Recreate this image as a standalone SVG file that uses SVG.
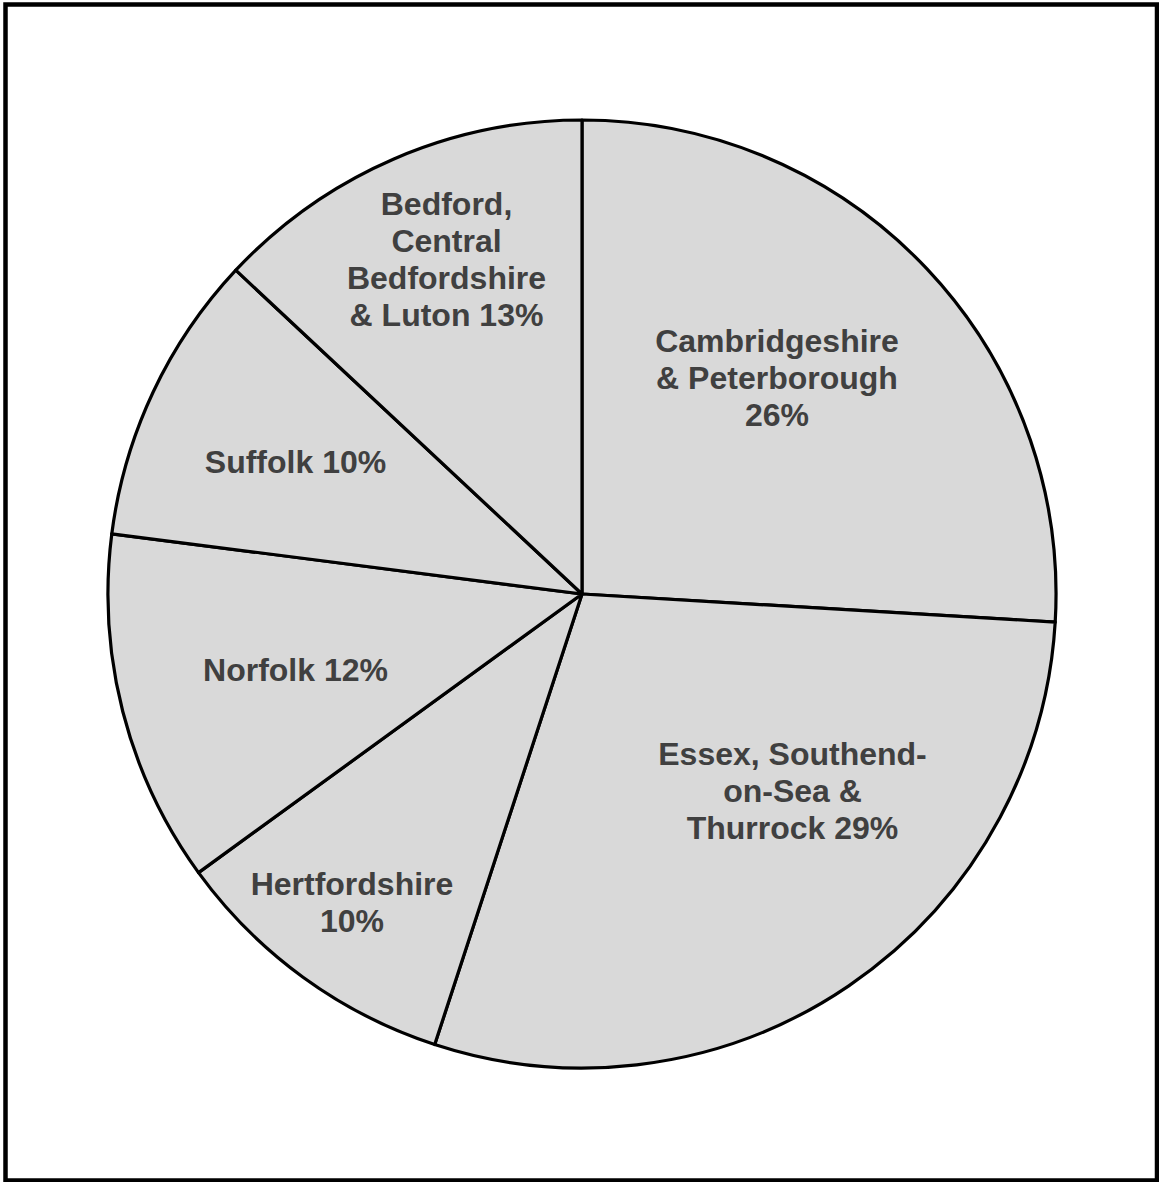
<svg xmlns="http://www.w3.org/2000/svg" width="1159" height="1182" viewBox="0 0 1159 1182">
<style>
.slice{fill:#d9d9d9;stroke:#000;stroke-width:3.2;stroke-linejoin:round}
.lbl{font-family:"Liberation Sans",Arial,sans-serif;font-weight:bold;font-size:32px;fill:#404040;text-anchor:middle}
</style>
<rect x="0" y="0" width="1159" height="1182" fill="#fff"/>
<rect x="5.5" y="4.5" width="1151.5" height="1176" fill="none" stroke="#000" stroke-width="4.5"/>
<g id="cambridgeshire">
<path class="slice" d="M582,594 L582,120 A474,474 0 0 1 1055.2,622.1 Z"/>
<text class="lbl" x="777" y="351.5">Cambridgeshire</text>
<text class="lbl" x="777" y="388.5">&amp; Peterborough</text>
<text class="lbl" x="777" y="425.5">26%</text>
</g>
<g id="essex">
<path class="slice" d="M582,594 L1055.2,622.1 A474,474 0 0 1 434.7,1044.5 Z"/>
<text class="lbl" x="792.5" y="764.5">Essex, Southend-</text>
<text class="lbl" x="792.5" y="801.5">on-Sea &amp;</text>
<text class="lbl" x="792.5" y="838.5">Thurrock 29%</text>
</g>
<g id="hertfordshire">
<path class="slice" d="M582,594 L434.7,1044.5 A474,474 0 0 1 198.5,872.6 Z"/>
<text class="lbl" x="352" y="895">Hertfordshire</text>
<text class="lbl" x="352" y="932">10%</text>
</g>
<g id="norfolk">
<path class="slice" d="M582,594 L198.5,872.6 A474,474 0 0 1 111.8,533.8 Z"/>
<text class="lbl" x="295.5" y="681">Norfolk 12%</text>
</g>
<g id="suffolk">
<path class="slice" d="M582,594 L111.8,533.8 A474,474 0 0 1 235.8,270.2 Z"/>
<text class="lbl" x="295.5" y="473">Suffolk 10%</text>
</g>
<g id="bedford">
<path class="slice" d="M582,594 L235.8,270.2 A474,474 0 0 1 582,120 Z"/>
<text class="lbl" x="446.5" y="214.5">Bedford,</text>
<text class="lbl" x="446.5" y="251.5">Central</text>
<text class="lbl" x="446.5" y="288.5">Bedfordshire</text>
<text class="lbl" x="446.5" y="325.5">&amp; Luton 13%</text>
</g>
<g id="connectors"></g>
</svg>
